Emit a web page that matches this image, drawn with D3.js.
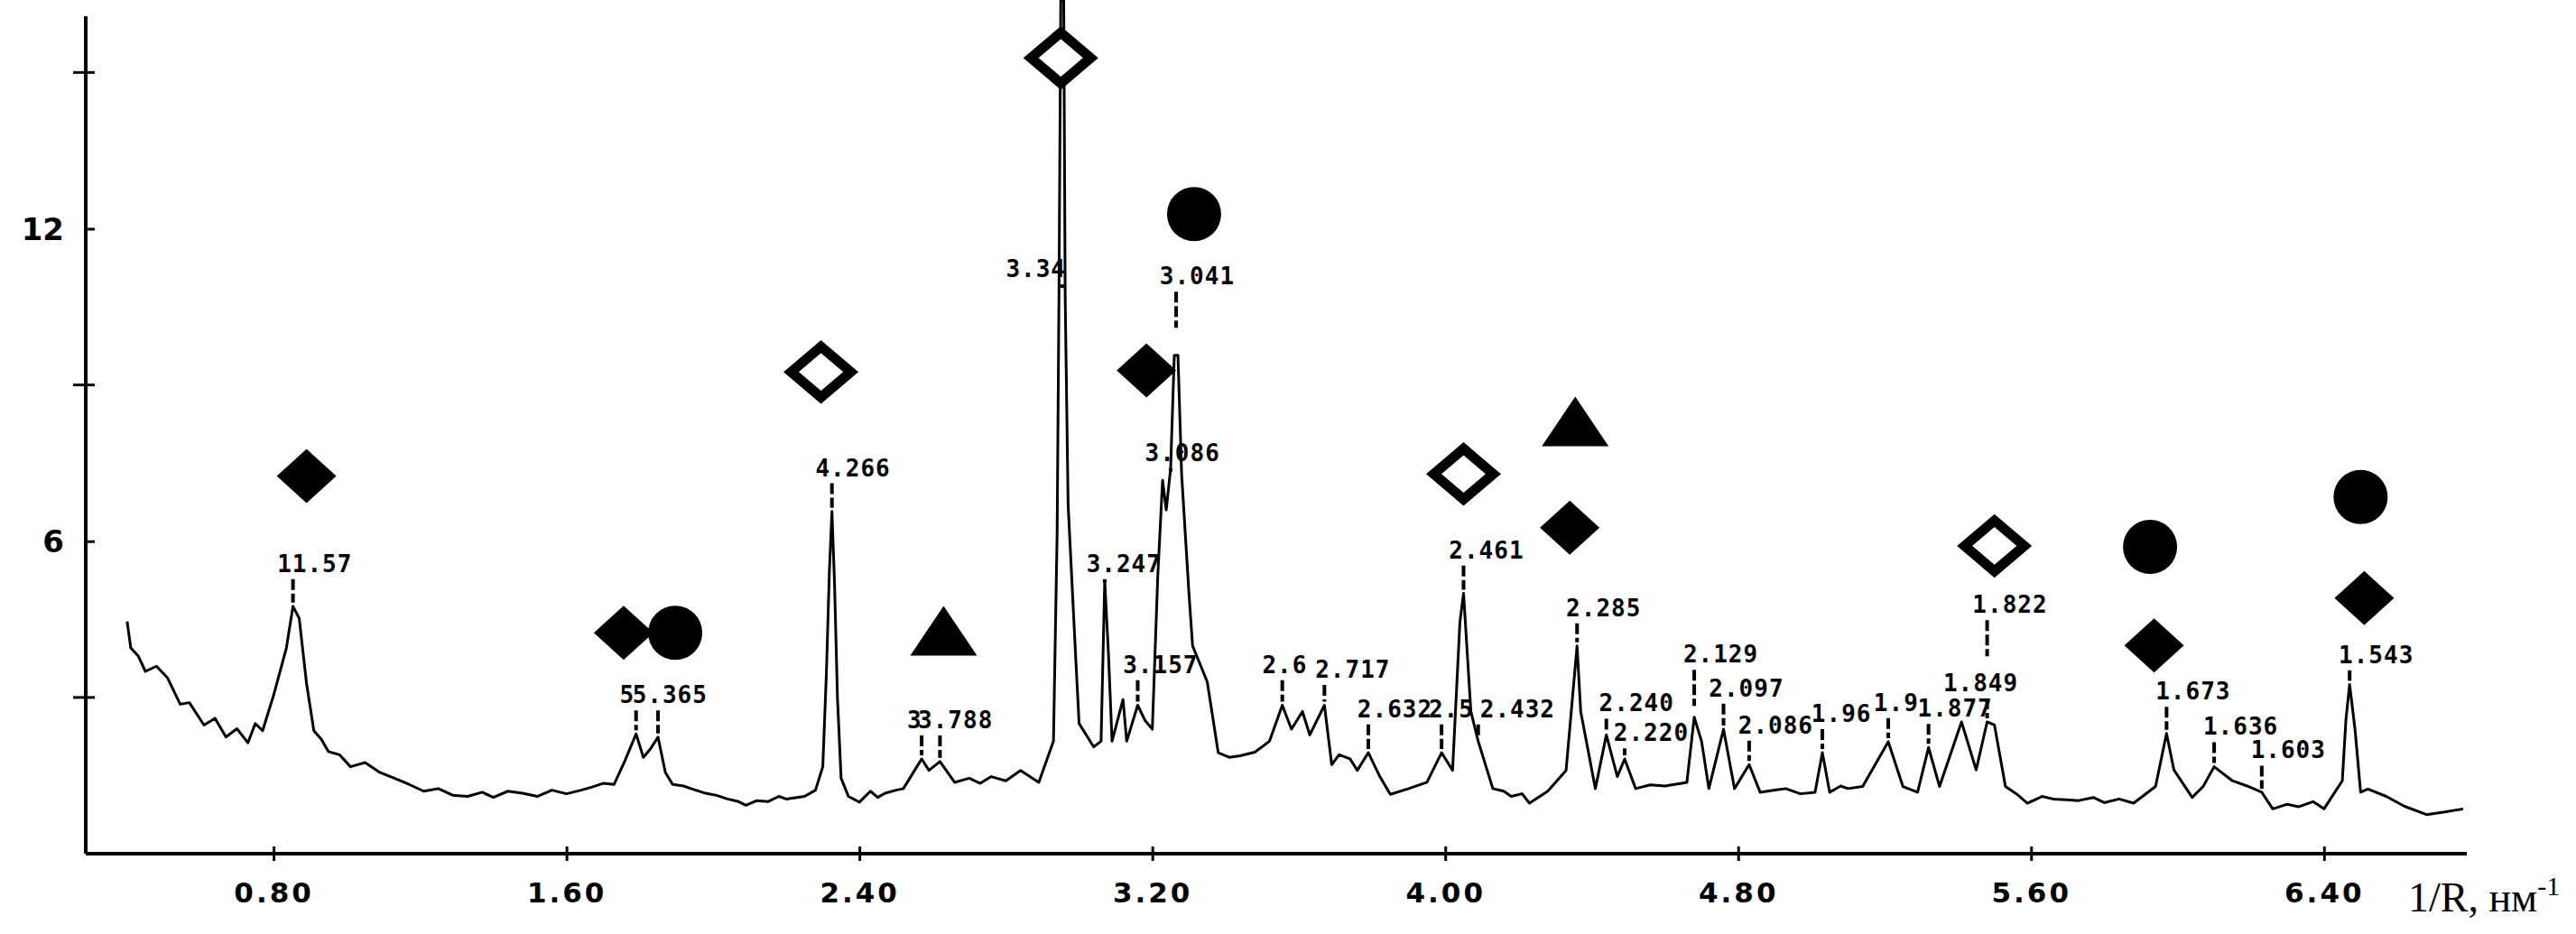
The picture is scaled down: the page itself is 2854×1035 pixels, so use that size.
<!DOCTYPE html>
<html><head><meta charset="utf-8">
<script src="https://cdn.jsdelivr.net/npm/d3@7"></script>
<style>body{margin:0;background:#fff}</style></head>
<body><svg id="c" width="2854" height="1035"></svg>
<script>
const xTicks=[0.80,1.60,2.40,3.20,4.00,4.80,5.60,6.40];
const yTicks=[6,12];
const yMinor=[3,9,15];
const trace=[[0.40,4.46],[0.41,3.95],[0.43,3.8],[0.45,3.5],[0.48,3.6],[0.51,3.38],[0.545,2.87],[0.57,2.9],[0.61,2.47],[0.64,2.6],[0.67,2.24],[0.70,2.4],[0.73,2.13],[0.75,2.5],[0.77,2.36],[0.80,3.04],[0.835,3.95],[0.853,4.75],[0.87,4.52],[0.89,3.27],[0.91,2.36],[0.93,2.2],[0.95,1.96],[0.98,1.9],[1.01,1.67],[1.05,1.75],[1.09,1.56],[1.13,1.45],[1.17,1.33],[1.21,1.2],[1.25,1.25],[1.29,1.12],[1.33,1.10],[1.37,1.18],[1.40,1.08],[1.44,1.2],[1.48,1.16],[1.52,1.1],[1.56,1.22],[1.60,1.15],[1.64,1.22],[1.67,1.28],[1.70,1.35],[1.73,1.33],[1.76,1.79],[1.79,2.30],[1.81,1.85],[1.83,2.02],[1.85,2.24],[1.87,1.56],[1.89,1.33],[1.92,1.3],[1.94,1.25],[1.98,1.16],[2.01,1.12],[2.04,1.05],[2.07,1.0],[2.09,0.93],[2.12,1.02],[2.15,1.0],[2.18,1.1],[2.20,1.05],[2.25,1.1],[2.28,1.22],[2.30,1.67],[2.31,3.5],[2.318,5.43],[2.325,6.57],[2.332,5.2],[2.34,3.0],[2.35,1.45],[2.37,1.1],[2.40,0.99],[2.43,1.2],[2.45,1.08],[2.47,1.16],[2.50,1.22],[2.52,1.25],[2.57,1.82],[2.59,1.6],[2.62,1.77],[2.66,1.37],[2.70,1.45],[2.73,1.35],[2.76,1.48],[2.80,1.4],[2.84,1.6],[2.89,1.37],[2.93,2.16],[2.94,6.15],[2.945,10.7],[2.95,16.4],[2.958,16.4],[2.962,10.7],[2.97,6.7],[2.99,3.87],[3.00,2.5],[3.04,2.05],[3.06,2.16],[3.07,5.24],[3.08,3.87],[3.09,2.16],[3.12,2.96],[3.13,2.16],[3.16,2.85],[3.18,2.56],[3.20,2.39],[3.215,5.35],[3.228,7.17],[3.238,6.6],[3.25,7.4],[3.26,9.57],[3.27,9.57],[3.28,7.29],[3.30,5.0],[3.31,3.99],[3.35,3.3],[3.38,1.94],[3.41,1.85],[3.44,1.88],[3.48,1.95],[3.52,2.16],[3.555,2.85],[3.58,2.39],[3.61,2.73],[3.63,2.28],[3.67,2.85],[3.69,1.71],[3.71,1.9],[3.74,1.82],[3.76,1.6],[3.79,1.94],[3.82,1.5],[3.85,1.14],[3.90,1.25],[3.95,1.37],[3.99,1.94],[4.02,1.6],[4.04,4.44],[4.05,5.0],[4.07,2.73],[4.09,2.16],[4.13,1.25],[4.16,1.2],[4.18,1.1],[4.21,1.15],[4.23,0.97],[4.28,1.2],[4.33,1.6],[4.36,3.99],[4.37,2.73],[4.41,1.25],[4.44,2.28],[4.47,1.48],[4.49,1.82],[4.52,1.25],[4.56,1.32],[4.60,1.3],[4.66,1.37],[4.68,2.62],[4.70,2.16],[4.72,1.25],[4.76,2.39],[4.79,1.25],[4.83,1.71],[4.86,1.18],[4.90,1.22],[4.93,1.25],[4.97,1.15],[5.01,1.18],[5.03,1.94],[5.05,1.18],[5.08,1.3],[5.10,1.25],[5.14,1.29],[5.21,2.15],[5.25,1.29],[5.29,1.18],[5.32,2.04],[5.35,1.29],[5.41,2.53],[5.45,1.61],[5.48,2.53],[5.50,2.47],[5.53,1.29],[5.56,1.15],[5.59,0.97],[5.63,1.1],[5.66,1.05],[5.73,1.02],[5.77,1.08],[5.80,0.98],[5.84,1.05],[5.88,0.97],[5.94,1.29],[5.97,2.31],[5.99,1.61],[6.04,1.08],[6.07,1.29],[6.10,1.67],[6.15,1.40],[6.19,1.3],[6.23,1.18],[6.26,0.86],[6.30,0.95],[6.33,0.9],[6.37,1.0],[6.40,0.86],[6.45,1.4],[6.46,2.58],[6.47,3.25],[6.485,2.37],[6.50,1.18],[6.52,1.24],[6.57,1.1],[6.62,0.91],[6.68,0.75],[6.73,0.8],[6.78,0.86]];
// peak labels: [text, left x value, baseline intensity, peak x, peak intensity]
const labels=[["11.57",0.81,5.41,0.853,4.75],["5",1.745,2.89,1.79,2.3],["5.365",1.78,2.89,1.85,2.24],["4.266",2.28,7.25,2.325,6.57],["3",2.53,2.41,2.57,1.82],["3.788",2.56,2.41,2.62,1.77],["3.34",2.80,11.07,2.954,16.4],["3.041",3.22,10.93,3.265,9.57],["3.086",3.18,7.54,3.25,7.4],["3.247",3.02,5.41,3.07,5.24],["3.157",3.12,3.47,3.16,2.85],["2.6",3.50,3.47,3.555,2.85],["2.717",3.645,3.38,3.67,2.85],["2.632",3.76,2.62,3.79,1.94],["2.5",3.955,2.62,3.99,1.94],["2.432",4.095,2.62,4.09,2.16],["2.461",4.01,5.67,4.05,5.0],["2.285",4.33,4.56,4.36,3.99],["2.240",4.42,2.73,4.44,2.28],["2.220",4.46,2.16,4.49,1.82],["2.129",4.65,3.67,4.68,2.62],["2.097",4.72,3.02,4.76,2.39],["2.086",4.80,2.31,4.83,1.71],["1.96",5.00,2.53,5.03,1.94],["1.9",5.17,2.74,5.21,2.15],["1.877",5.29,2.63,5.32,2.04],["1.849",5.36,3.12,5.48,2.53],["1.822",5.44,4.62,5.48,2.53],["1.673",5.94,2.96,5.97,2.31],["1.636",6.07,2.28,6.10,1.67],["1.603",6.20,1.83,6.23,1.18],["1.543",6.44,3.66,6.47,3.25]];
// phase markers: [type, x, intensity]
const markers=[["fd",0.89,7.25],["fd",1.756,4.24],["c",1.897,4.24],["od",2.295,9.25],["od",2.95,15.28],["c",3.314,12.28],["fd",3.184,9.28],["t",2.63,4.27],["od",4.05,7.29],["t",4.355,8.29],["fd",4.34,6.26],["od",5.50,5.91],["c",5.925,5.89],["fd",5.936,4.0],["c",6.50,6.85],["fd",6.51,4.91]];

const svg=d3.select("#c");
const x=d3.scaleLinear().domain([0.287,6.79]).range([95,2733]);
const y=d3.scaleLinear().domain([0,16.08]).range([946,18]);

const xa=svg.append("g").attr("transform","translate(0,946)")
 .call(d3.axisBottom(x).tickValues(xTicks).tickSize(8).tickFormat(d3.format(".2f")));
xa.select(".domain").attr("stroke-width",4).attr("d",`M95,0H2733`);
xa.selectAll(".tick line").attr("y1",-8).attr("stroke-width",3);
xa.selectAll(".tick text").attr("dy",0).attr("y",54).attr("font-family","DejaVu Sans").attr("font-weight","bold").attr("font-size",31).attr("letter-spacing",3);
const ya=svg.append("g").attr("transform","translate(95,0)")
 .call(d3.axisLeft(y).tickValues(yTicks).tickSize(14).tickFormat(d3.format("d")));
ya.select(".domain").attr("stroke-width",4).attr("d",`M0,946V18`);
ya.selectAll(".tick line").attr("x2",10).attr("stroke-width",3);
ya.selectAll(".tick text").attr("x",-24).attr("dy","0.36em").attr("font-family","DejaVu Sans").attr("font-weight","bold").attr("font-size",34);
svg.append("g").selectAll("line").data(yMinor).join("line")
 .attr("x1",95-14).attr("x2",95+10).attr("y1",d=>y(d)).attr("y2",d=>y(d)).attr("stroke","#000").attr("stroke-width",3);

const t=svg.append("text").attr("x",2668).attr("y",1010).attr("font-family","Liberation Serif").attr("font-size",46).attr("fill","#000");
t.append("tspan").text("1/R, нм");
t.append("tspan").attr("dy",-18).attr("font-size",30).text("-1");

svg.append("path").datum(trace).attr("fill","none").attr("stroke","#000").attr("stroke-width",3).attr("stroke-linejoin","round")
 .attr("d",d3.line().x(d=>x(d[0])).y(d=>Math.max(0,y(d[1]))));

const lg=svg.append("g");
lg.selectAll("line").data(labels).join("line")
 .attr("x1",d=>x(d[3])).attr("x2",d=>x(d[3]))
 .attr("y1",d=>y(d[2])+8).attr("y2",d=>Math.min(y(d[2])+48,Math.max(y(d[4])-4,y(d[2])+12)))
 .attr("stroke","#000").attr("stroke-width",4).attr("stroke-dasharray","12,4");
lg.selectAll("text").data(labels).join("text")
 .attr("x",d=>x(d[1])).attr("y",d=>y(d[2])).text(d=>d[0])
 .attr("font-family","DejaVu Sans Mono").attr("font-weight","bold").attr("font-size",26).attr("letter-spacing",1);

const mg=svg.append("g");
markers.forEach(m=>{
 const cx=x(m[1]),cy=y(m[2]);
 if(m[0]==="c") mg.append("circle").attr("cx",cx).attr("cy",cy).attr("r",30).attr("fill","#000");
 else if(m[0]==="t") mg.append("path").attr("d",`M${cx},${cy-28}L${cx+37},${cy+27}L${cx-37},${cy+27}Z`).attr("fill","#000");
 else if(m[0]==="fd") mg.append("path").attr("d",`M${cx},${cy-30}L${cx+33},${cy}L${cx},${cy+30}L${cx-33},${cy}Z`).attr("fill","#000");
 else mg.append("path").attr("d",`M${cx},${cy-28}L${cx+33},${cy}L${cx},${cy+28}L${cx-33},${cy}Z`).attr("fill","#fff").attr("stroke","#000").attr("stroke-width",11);
});
</script></body></html>
